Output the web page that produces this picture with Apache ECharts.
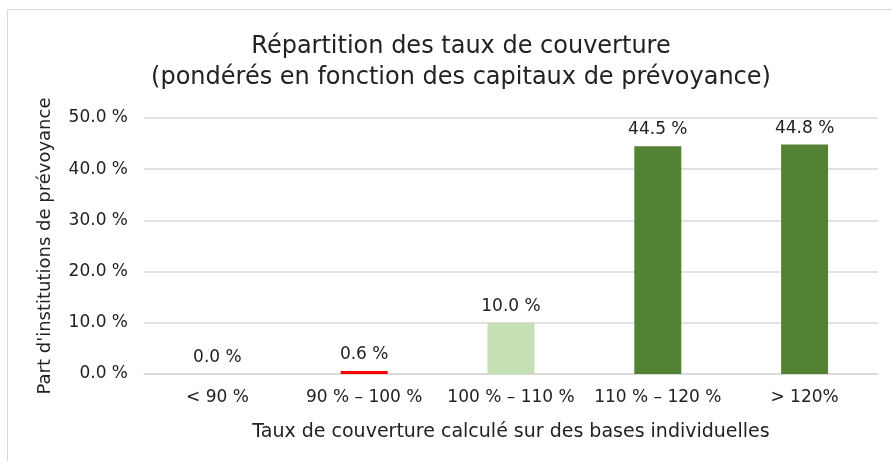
<!DOCTYPE html>
<html>
<head>
<meta charset="utf-8">
<script src="https://cdn.jsdelivr.net/npm/echarts@6/dist/echarts.min.js"></script>
<style>
  html, body { margin: 0; padding: 0; background: #fff; }
  #chart { width: 892px; height: 461px; }
</style>
</head>
<body>
<div id="chart"></div>
<script>
const categories = ['< 90 %', '90 % – 100 %', '100 % – 110 %', '110 % – 120 %', '> 120%'];
const shares = [0.0, 0.6, 10.0, 44.5, 44.8];
const barColors = ['#FF0000', '#FF0000', '#C5E0B4', '#548235', '#548235'];

const FONT = 'DejaVu Sans, Liberation Sans, Arial, sans-serif';
const TEXT = '#222';

document.addEventListener('DOMContentLoaded', () => {
    let chart = echarts.init(document.getElementById('chart'));
    let option = {
        animation: false,
        textStyle: { fontFamily: FONT },
        graphic: [{
            type: 'rect',
            shape: { x: 7.5, y: 9.5, width: 900, height: 470 },
            style: { fill: 'none', stroke: '#d9d9d9', lineWidth: 1 },
            silent: true
        }],
        title: {
            text: 'Répartition des taux de couverture\n(pondérés en fonction des capitaux de prévoyance)',
            left: 456,
            top: 26,
            textAlign: 'center',
            textStyle: {
                fontFamily: FONT,
                fontWeight: 'normal',
                fontSize: 24,
                lineHeight: 31,
                color: TEXT
            }
        },
        grid: {
            left: 144,
            right: 14,
            top: 118,
            bottom: 87
        },
        xAxis: {
            type: 'category',
            data: categories,
            name: 'Taux de couverture calculé sur des bases individuelles',
            nameLocation: 'middle',
            nameGap: 49,
            nameTextStyle: { fontFamily: FONT, fontSize: 19, color: TEXT },
            axisLine: { lineStyle: { color: '#d9d9d9', width: 1.5 } },
            axisTick: { show: false },
            axisLabel: { interval: 0, fontFamily: FONT, fontSize: 17, color: TEXT, margin: 15 }
        },
        yAxis: {
            type: 'value',
            min: 0,
            max: 50,
            interval: 10,
            name: "Part d'institutions de prévoyance",
            nameLocation: 'middle',
            nameGap: 90,
            nameTextStyle: { fontFamily: FONT, fontSize: 18, color: TEXT },
            axisLine: { show: false },
            axisTick: { show: false },
            splitLine: { lineStyle: { color: '#d9d9d9', width: 1.5 } },
            axisLabel: {
                fontFamily: FONT,
                fontSize: 17,
                color: TEXT,
                margin: 16,
                formatter: function (value) {
                    return value.toFixed(1) + ' %';
                }
            }
        },
        series: [{
            type: 'bar',
            data: shares.map((v, i) => ({ value: v, itemStyle: { color: barColors[i] } })),
            barWidth: '32%',
            label: {
                show: true,
                position: 'top',
                distance: 8,
                fontFamily: FONT,
                fontSize: 17,
                color: TEXT,
                formatter: function (p) {
                    return p.value.toFixed(1) + ' %';
                }
            }
        }]
    };
    chart.setOption(option);
});
</script>
</body>
</html>
